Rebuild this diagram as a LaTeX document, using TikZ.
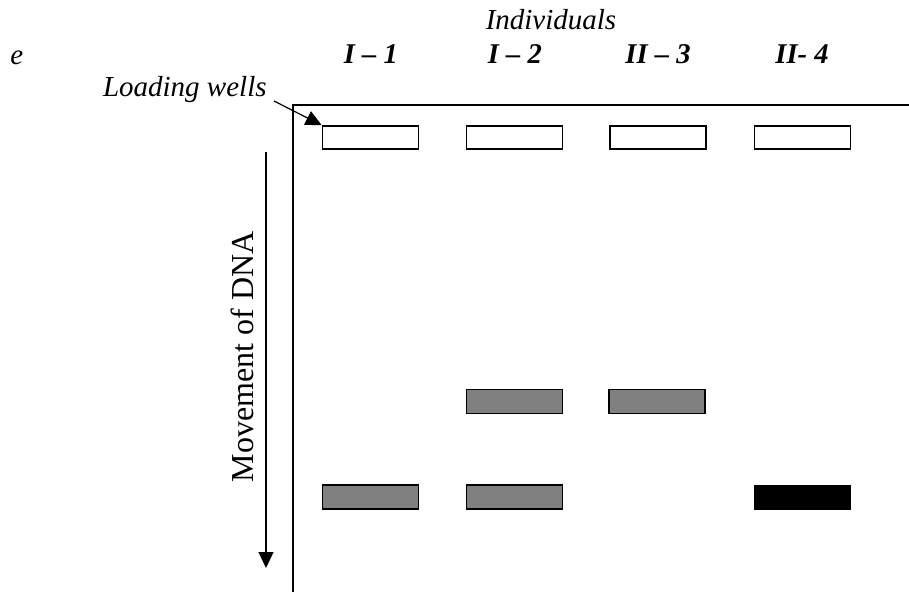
\documentclass[tikz,border=0pt]{standalone}
\usepackage{fontspec}
\setmainfont{Liberation Serif}
\usetikzlibrary{arrows.meta}
\begin{document}
\begin{tikzpicture}[x=0.5pt,y=-0.5pt,
  lbl/.style={font=\fontsize{14.5pt}{16pt}\selectfont\itshape, inner sep=0pt, anchor=base},
  lane/.style={font=\fontsize{14.3pt}{16pt}\selectfont\bfseries\itshape, inner sep=0pt, anchor=base},
  well/.style={draw, line width=0.75pt, fill=white, minimum width=48pt, minimum height=11.5pt, inner sep=0pt},
  band/.style={draw=black, line width=0.9pt, fill=gelgray, minimum width=48pt, minimum height=12pt, inner sep=0pt},
  darkband/.style={draw=none, fill=black, minimum width=48.5pt, minimum height=12.5pt, inner sep=0pt},
  frame/.style={line width=1pt},
  tip/.style={-{Triangle[length=8pt,width=7.5pt]}}
]
\definecolor{gelgray}{RGB}{128,128,128}
\useasboundingbox (0,0) rectangle (909,592);
% frame
\coordinate (ftr) at (909,105);
\coordinate (ftl) at (293,105);
\coordinate (fbl) at (293,592);
\draw[frame] (ftr) -- (ftl) -- (fbl);
% labels
\node[lbl] (ind) at (551,30) {Individuals};
\node[lbl, anchor=base west] (e) at (10,65) {e};
\node[lane] (l1) at (371,64) {I – 1};
\node[lane] (l2) at (515,64) {I – 2};
\node[lane] (l3) at (658,64) {II – 3};
\node[lane] (l4) at (802,64) {II- 4};
\node[lbl, anchor=base east] (lw) at (267,97) {Loading wells};
% wells
\node[well] (w1) at (370.5,137.5) {};
\node[well] (w2) at (514.5,137.5) {};
\node[well] (w3) at (658,137.5) {};
\node[well] (w4) at (802.5,137.5) {};
% bands
\node[band] (b2a) at (514.5,401.5) {};
\node[band] (b3a) at (657,401.5) {};
\node[band] (b1b) at (370.5,497) {};
\node[band] (b2b) at (514.5,497) {};
\node[darkband] (b4b) at (802.5,497) {};
% loading wells arrow
\coordinate (lwstart) at (274,101);
\draw[line width=0.6pt, tip] (lwstart) -- (w1.north west);
% movement arrow
\coordinate (mtop) at (266,152);
\coordinate (mbot) at (266,568);
\draw[line width=0.6pt, tip] (mtop) -- (mbot);
\node[rotate=90, anchor=base, inner sep=0pt, font=\fontsize{16pt}{18pt}\selectfont] (mov) at (253,357) {Movement of DNA};
\end{tikzpicture}
\end{document}
